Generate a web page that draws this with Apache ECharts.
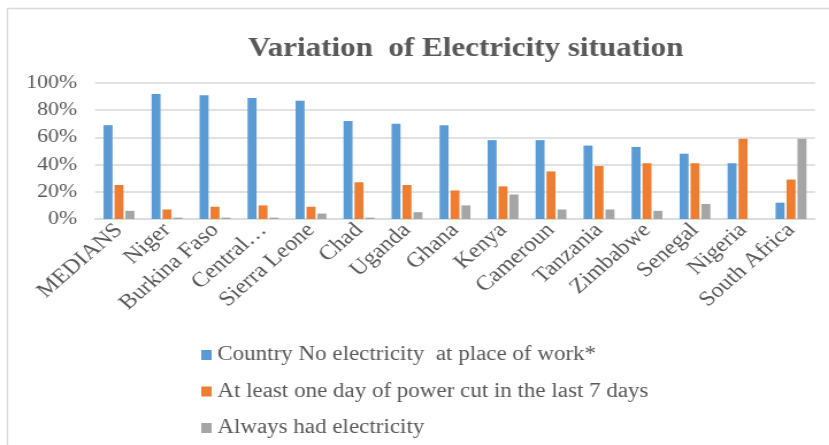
<!DOCTYPE html>
<html>
<head>
<meta charset="utf-8">
<script src="https://cdn.jsdelivr.net/npm/echarts@6/dist/echarts.min.js"></script>
<style>
  html, body { margin: 0; padding: 0; background: #fff; overflow: hidden; }
  /* The drawing is laid out on a narrower canvas and widened to the page width */
  #chart { width: 721px; height: 445px; transform: scaleX(1.15); transform-origin: 0 0; }
</style>
</head>
<body>
<div id="chart"></div>
<script>
// Countries, ordered as in the survey summary
const countries = ['MEDIANS', 'Niger', 'Burkina Faso', 'Central…', 'Sierra Leone', 'Chad', 'Uganda', 'Ghana', 'Kenya', 'Cameroun', 'Tanzania', 'Zimbabwe', 'Senegal', 'Nigeria', 'South Africa'];

// Shares of respondents (percent)
const noElectricity = [69, 92, 91, 89, 87, 72, 70, 69, 58, 58, 54, 53, 48, 41, 12];
const powerCut = [25, 7, 9, 10, 9, 27, 25, 21, 24, 35, 39, 41, 41, 59, 29];
const alwaysHad = [6, 1, 1, 1, 4, 1, 5, 10, 18, 7, 7, 6, 11, 0, 59];

const yTicks = [0, 20, 40, 60, 80, 100];

const seriesNames = [
  'Country No electricity  at place of work*',
  'At least one day of power cut in the last 7 days',
  'Always had electricity'
];
const colors = ['#5B9BD5', '#ED7D31', '#A5A5A5'];

const serif = '"Liberation Serif", "DejaVu Serif", serif';
const textGray = '#595959';

const chart = echarts.init(document.getElementById('chart'), null, { renderer: 'canvas' });

const barSeries = [noElectricity, powerCut, alwaysHad].map((vals, i) => ({
  name: seriesNames[i],
  type: 'bar',
  data: vals,
  barWidth: 7.8,
  barGap: '22%',
  itemStyle: { color: colors[i] }
}));

chart.setOption({
  animation: false,
  backgroundColor: '#ffffff',
  title: {
    text: 'Variation  of Electricity situation',
    left: 400,
    textAlign: 'center',
    top: 31,
    textStyle: { fontFamily: serif, fontSize: 27, fontWeight: 'bold', color: textGray }
  },
  graphic: [
    { type: 'line', shape: { x1: 6, y1: 8.5, x2: 721, y2: 8.5 }, style: { stroke: '#D9D9D9', lineWidth: 1.5 } },
    { type: 'line', shape: { x1: 6.5, y1: 8, x2: 6.5, y2: 445 }, style: { stroke: '#D9D9D9', lineWidth: 1.3 } }
  ],
  legend: {
    orient: 'vertical',
    left: 175,
    top: 345,
    height: 120,
    padding: 0,
    itemWidth: 9,
    itemHeight: 10,
    itemGap: 16.5,
    icon: 'rect',
    textStyle: { fontFamily: serif, fontSize: 20, color: textGray }
  },
  grid: { left: 82.6, right: 12.3, top: 83, bottom: 226, containLabel: false },
  xAxis: {
    type: 'category',
    data: countries,
    axisTick: { show: false },
    axisLine: { lineStyle: { color: '#D9D9D9', width: 1.5 } },
    axisLabel: {
      rotate: 45,
      margin: 8,
      interval: 0,
      fontFamily: serif,
      fontSize: 21,
      color: textGray
    }
  },
  yAxis: {
    type: 'value',
    min: yTicks[0],
    max: yTicks[yTicks.length - 1],
    interval: 20,
    axisLine: { show: false },
    axisTick: { show: false },
    splitLine: { lineStyle: { color: '#D9D9D9', width: 1.5 } },
    axisLabel: {
      margin: 15.5,
      fontFamily: serif,
      fontSize: 19,
      color: textGray,
      formatter: v => v + '%'
    }
  },
  series: barSeries
});
</script>
</body>
</html>
